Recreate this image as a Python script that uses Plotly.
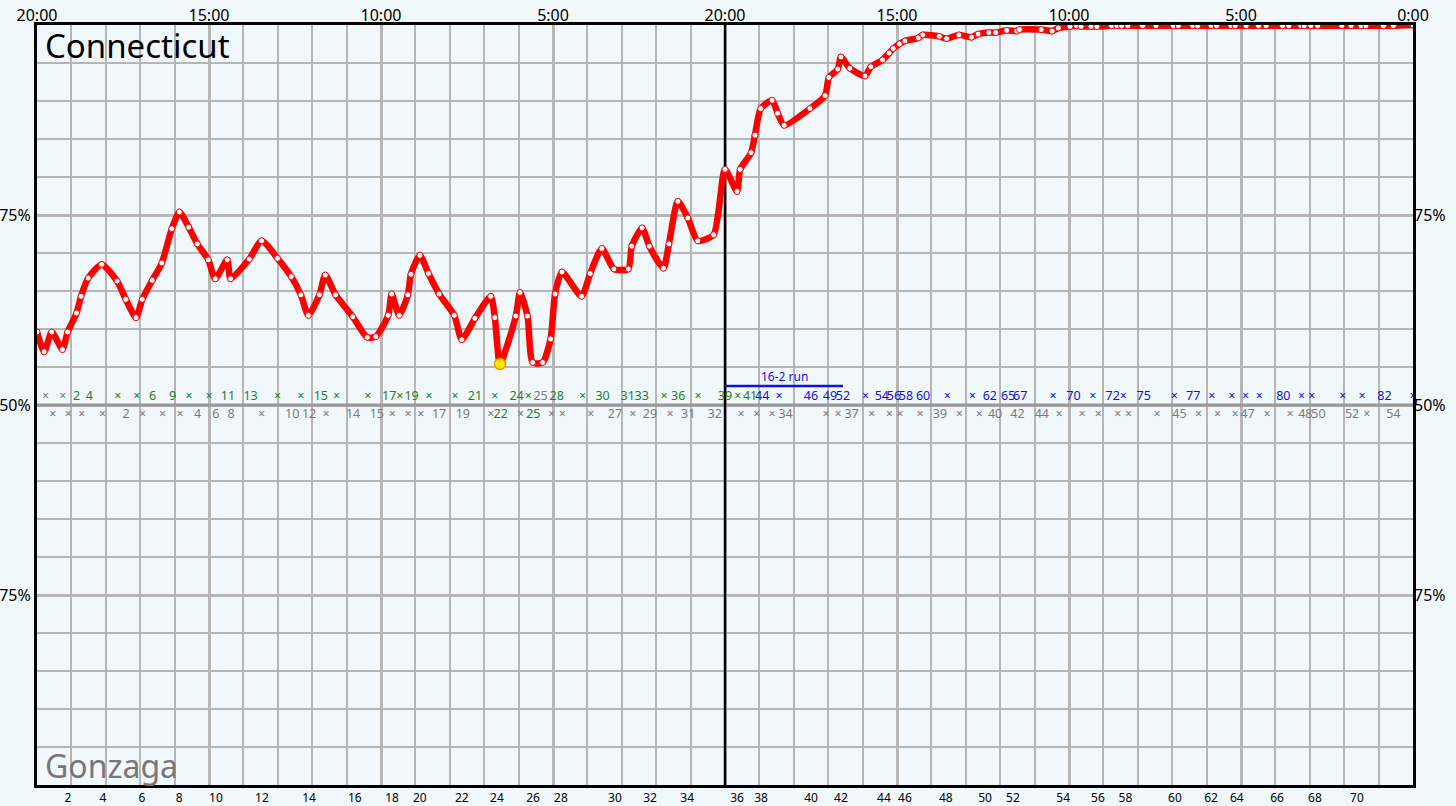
import numpy as np
import plotly.graph_objects as go

# ---------------- data ----------------
# win probability for Connecticut (%), time = minutes elapsed (0..40)
wp_t = [0.0, 0.21, 0.43, 0.74, 0.89, 1.15, 1.28, 1.49, 1.88, 2.33,
        2.58, 2.88, 3.06, 3.35, 3.63, 3.92, 4.14, 4.41, 4.66, 4.98,
        5.18, 5.53, 5.63, 6.17, 6.53, 6.99, 7.39, 7.67, 7.89, 8.21,
        8.38, 8.68, 9.18, 9.60, 9.85, 10.21, 10.31, 10.53, 10.78, 10.87,
        11.13, 11.38, 11.69, 12.13, 12.35, 12.73, 13.19, 13.31, 13.46, 13.92,
        14.04, 14.26, 14.41, 14.70, 14.93, 15.06, 15.26, 15.83, 16.08, 16.42,
        16.77, 17.19, 17.29, 17.59, 17.80, 18.21, 18.37, 18.63, 18.92, 19.21,
        19.67, 20.0, 20.35, 20.44, 20.76, 20.87, 21.04, 21.37, 21.53, 21.72,
        22.47, 22.91, 23.02, 23.28, 23.37, 23.63, 24.07, 24.24, 24.58, 24.77,
        24.89, 25.07, 25.23, 25.62, 25.75, 26.23, 26.44, 26.80, 27.17, 27.36,
        27.67, 27.87, 28.19, 28.48, 28.56, 29.19, 29.51, 29.69, 30.03, 30.22,
        30.35, 30.64, 30.81, 31.24, 31.39, 31.53, 31.71, 32.14, 32.53, 33.03,
        33.18, 33.60, 33.74, 34.13, 34.29, 34.71, 34.83, 35.15, 35.51, 35.73,
        36.21, 36.39, 36.74, 36.84, 37.03, 37.23, 37.93, 38.20, 38.49, 38.63,
        39.14, 39.43, 40.0]
wp_p = [59.6, 57.0, 59.6, 57.3, 59.6, 62.1, 64.3, 66.7, 68.5, 66.3,
        63.9, 61.5, 63.9, 66.4, 68.7, 73.2, 75.4, 73.4, 71.2, 69.1,
        66.6, 69.1, 66.6, 69.2, 71.6, 69.3, 66.9, 64.5, 61.8, 64.5,
        67.1, 64.5, 61.6, 58.9, 59.0, 61.8, 64.6, 61.8, 64.5, 67.2,
        69.7, 67.3, 64.6, 61.8, 58.6, 61.4, 64.3, 61.5, 55.4, 61.7,
        64.8, 61.7, 55.6, 55.6, 58.7, 64.6, 67.5, 64.3, 67.3, 70.6,
        67.9, 67.9, 70.9, 73.3, 70.9, 68.0, 71.2, 76.8, 74.6, 71.6,
        72.4, 81.0, 78.1, 81.0, 83.2, 85.5, 89.0, 90.1, 88.4, 86.8,
        89.0, 90.7, 93.1, 94.2, 95.8, 94.3, 93.3, 94.5, 95.4, 96.3,
        96.9, 97.5, 97.9, 98.3, 98.7, 98.5, 98.2, 98.7, 98.4, 98.8,
        99.0, 99.0, 99.3, 99.2, 99.4, 99.4, 99.2, 99.6, 99.8, 99.9,
        99.8, 99.8, 99.8, 99.9, 99.9, 99.9, 99.9, 99.9, 99.9, 99.9,
        99.9, 99.9, 99.9, 99.9, 99.9, 99.9, 99.9, 99.9, 99.9, 99.9,
        99.9, 99.9, 99.9, 99.9, 99.9, 99.9, 99.9, 99.9, 99.9, 99.9,
        99.9, 99.9, 100.0]

# Connecticut possessions: time and result (score after a make, × = no score)
uconn_t = [0.25, 0.75, 1.15, 1.52, 2.35, 2.90, 3.36, 3.94, 4.42, 5.00,
           5.55, 6.21, 6.99, 7.67, 8.25, 8.71, 9.62, 10.24, 10.55, 10.89,
           11.40, 12.15, 12.73, 13.31, 13.94, 14.28, 14.64, 15.11, 15.86, 16.44,
           17.17, 17.58, 18.23, 18.64, 19.22, 20.0, 20.37, 20.73, 21.08, 21.57,
           22.50, 23.05, 23.43, 24.09, 24.56, 24.91, 25.26, 25.76, 26.46, 27.19,
           27.70, 28.23, 28.58, 29.54, 30.13, 30.69, 31.27, 31.58, 32.17, 33.06,
           33.61, 34.15, 34.73, 35.13, 35.53, 36.23, 36.76, 37.06, 37.96, 38.52,
           39.17, 40.0]
uconn_lbl = ['×', '×', '2', '4', '×', '×', '6', '9', '×', '×',
             '11', '13', '×', '×', '15', '×', '×', '17', '×', '19',
             '×', '×', '21', '×', '24', '×', '25', '28', '×', '30',
             '31', '33', '×', '36', '×', '39', '×', '41', '44', '×',
             '46', '49', '52', '×', '54', '56', '58', '60', '×', '×',
             '62', '65', '67', '×', '70', '×', '72', '×', '75', '×',
             '77', '×', '×', '×', '×', '80', '×', '×', '×', '×',
             '82', '×']

# Gonzaga possessions
gonz_t = [0.46, 0.91, 1.30, 1.91, 2.59, 3.07, 3.65, 4.16, 4.67, 5.20,
          5.64, 6.53, 7.42, 7.91, 8.40, 9.19, 9.88, 10.33, 10.79, 11.16,
          11.69, 12.38, 13.19, 13.48, 14.06, 14.43, 14.96, 15.27, 16.10, 16.80,
          17.32, 17.82, 18.40, 18.93, 19.70, 20.47, 20.92, 21.37, 21.76, 22.94,
          23.29, 23.68, 24.26, 24.78, 25.09, 25.67, 26.25, 26.81, 27.39, 27.85,
          28.50, 29.21, 29.71, 30.38, 30.85, 31.42, 31.73, 32.56, 33.21, 33.77,
          34.32, 34.83, 35.19, 35.76, 36.43, 36.87, 37.25, 38.23, 38.66, 39.43]
gonz_lbl = ['×', '×', '×', '×', '2', '×', '×', '×', '4', '6',
            '8', '×', '10', '12', '×', '14', '15', '×', '×', '×',
            '17', '19', '×', '22', '×', '25', '×', '×', '×', '27',
            '×', '29', '×', '31', '32', '×', '×', '×', '34', '×',
            '×', '37', '×', '×', '×', '×', '39', '×', '×', '40',
            '42', '44', '×', '×', '×', '×', '×', '×', '45', '×',
            '×', '×', '47', '×', '×', '48', '50', '52', '×', '54']

# possession-number ticks along the bottom
poss_t = [0.90, 1.92, 3.05, 4.13, 5.20, 6.54, 7.91, 9.24, 10.32, 11.13,
          12.35, 13.37, 14.42, 15.23, 16.80, 17.82, 18.90, 20.35, 21.05, 22.50,
          23.37, 24.62, 25.23, 26.42, 27.56, 28.37, 29.83, 30.84, 31.64, 33.08,
          34.13, 34.88, 36.05, 37.15, 38.37]
poss_lbl = [str(n) for n in range(2, 72, 2)]

# game clock ticks along the top
clock_t = [0, 5, 10, 15, 20, 25, 30, 35, 40]
clock_lbl = ['20:00', '15:00', '10:00', '5:00', '20:00', '15:00', '10:00', '5:00', '0:00']

prob_ticks = [25, 50, 75]
prob_lbl = ['75%', '50%', '75%']

run_start, run_end, run_label = 20.0, 23.43, '16-2 run'
half_time = 20.0
home_name, away_name = 'Connecticut', 'Gonzaga'

# ---------------- style ----------------
BG = '#f1f8fc'
FONT = 'Noto Sans'
RED = '#ff0000'
GREEN = '#22801e'
BLUE = '#1010e0'
GRAY = '#7a7a7a'
GRID = '#b6b6b6'
ROW_UP, ROW_DN = 51.1, 48.7


def score_at(times, labels, t):
    s = 0
    for tt, lb in zip(times, labels):
        if tt <= t and lb != '×':
            s = int(lb)
    return s


def lead_color(lead):
    if lead >= 10:
        return BLUE
    if lead > 0:
        return GREEN
    return GRAY


fig = go.Figure()

# win probability line
fig.add_trace(go.Scatter(
    x=wp_t, y=wp_p, mode='lines+markers',
    line=dict(color=RED, width=6.5, shape='spline', smoothing=0.6),
    marker=dict(size=6, color='white', line=dict(color=RED, width=1)),
    hoverinfo='skip'))

# lowest point of the first half
first_half = [i for i, t in enumerate(wp_t) if t < half_time]
imin = min(first_half, key=lambda i: wp_p[i])
fig.add_trace(go.Scatter(
    x=[wp_t[imin]], y=[wp_p[imin]], mode='markers',
    marker=dict(size=11, color='#ffe800', line=dict(color='#e8a000', width=1.5)),
    hoverinfo='skip'))

# possession result rows
for times, labels, other_t, other_l, yrow in [
        (uconn_t, uconn_lbl, gonz_t, gonz_lbl, ROW_UP),
        (gonz_t, gonz_lbl, uconn_t, uconn_lbl, ROW_DN)]:
    groups = {}
    for t, lb in zip(times, labels):
        lead = score_at(times, labels, t) - score_at(other_t, other_l, t)
        c = lead_color(lead)
        groups.setdefault(c, ([], []))
        groups[c][0].append(t)
        groups[c][1].append(lb)
    for c, (xs, ts) in groups.items():
        fig.add_trace(go.Scatter(
            x=xs, y=[yrow] * len(xs), mode='text', text=ts,
            textposition='middle center', cliponaxis=False,
            textfont=dict(family=FONT, size=12.5, color=c), hoverinfo='skip'))

# dummy trace for the secondary (top / right) axes
fig.add_trace(go.Scatter(x=[0], y=[50], xaxis='x2', yaxis='y2', mode='markers',
                         marker=dict(opacity=0), hoverinfo='skip'))

shapes = [
    dict(type='line', xref='x', yref='y', x0=0, x1=40, y0=50, y1=50,
         line=dict(color='#9a9a9a', width=3), layer='between'),
    dict(type='line', xref='x', yref='y', x0=half_time, x1=half_time, y0=0, y1=100,
         line=dict(color='black', width=2.5), layer='between'),
    dict(type='line', xref='x', yref='y', x0=run_start, x1=run_end, y0=52.5, y1=52.5,
         line=dict(color=BLUE, width=2.5), layer='above'),
]

annotations = [
    dict(text=run_label, x=(run_start + run_end) / 2, y=53.7, xref='x', yref='y',
         showarrow=False, font=dict(family=FONT, size=12, color=BLUE), yanchor='middle'),
    dict(text=home_name, x=0.004, y=1.005, xref='paper', yref='paper', xanchor='left',
         yanchor='top', showarrow=False, font=dict(family=FONT, size=33, color='black')),
    dict(text=away_name, x=0.004, y=-0.005, xref='paper', yref='paper', xanchor='left',
         yanchor='bottom', showarrow=False, font=dict(family=FONT, size=32, color='#777777')),
]

fig.update_layout(
    width=1456, height=806,
    margin=dict(l=37, r=43, t=25, b=21, autoexpand=False),
    paper_bgcolor=BG, plot_bgcolor=BG, showlegend=False,
    shapes=shapes, annotations=annotations,
    xaxis=dict(range=[0, 40], tickmode='array', tickvals=poss_t, ticktext=poss_lbl,
               showgrid=False, zeroline=False, showline=True, linecolor='black',
               linewidth=3, mirror=True, ticks='', automargin=False,
               tickfont=dict(family=FONT, size=12, color='black')),
    xaxis2=dict(range=[0, 40], overlaying='x', side='top', tickmode='array',
                tickvals=clock_t, ticktext=clock_lbl, showgrid=True, gridcolor=GRID,
                gridwidth=3, zeroline=False, ticks='', automargin=False,
                minor=dict(tickmode='linear', tick0=0, dtick=1, showgrid=True,
                           gridcolor=GRID, gridwidth=1.5),
                tickfont=dict(family=FONT, size=16, color='black')),
    yaxis=dict(range=[0, 100], tickmode='array', tickvals=prob_ticks, ticktext=prob_lbl,
               showgrid=True, gridcolor=GRID, gridwidth=3, zeroline=False,
               showline=True, linecolor='black', linewidth=3, mirror=True, ticks='',
               automargin=False,
               minor=dict(tickmode='linear', tick0=0, dtick=5, showgrid=True,
                          gridcolor=GRID, gridwidth=1.5),
               tickfont=dict(family=FONT, size=16, color='black')),
    yaxis2=dict(range=[0, 100], overlaying='y', side='right', tickmode='array',
                tickvals=prob_ticks, ticktext=prob_lbl, showgrid=False, zeroline=False,
                ticks='', automargin=False,
                tickfont=dict(family=FONT, size=16, color='black')),
)

# remove the default 8 px page margin so the figure fills the window exactly
fig.write_html('out.html', config={'displayModeBar': False},
               post_script="document.body.style.margin='0';")
